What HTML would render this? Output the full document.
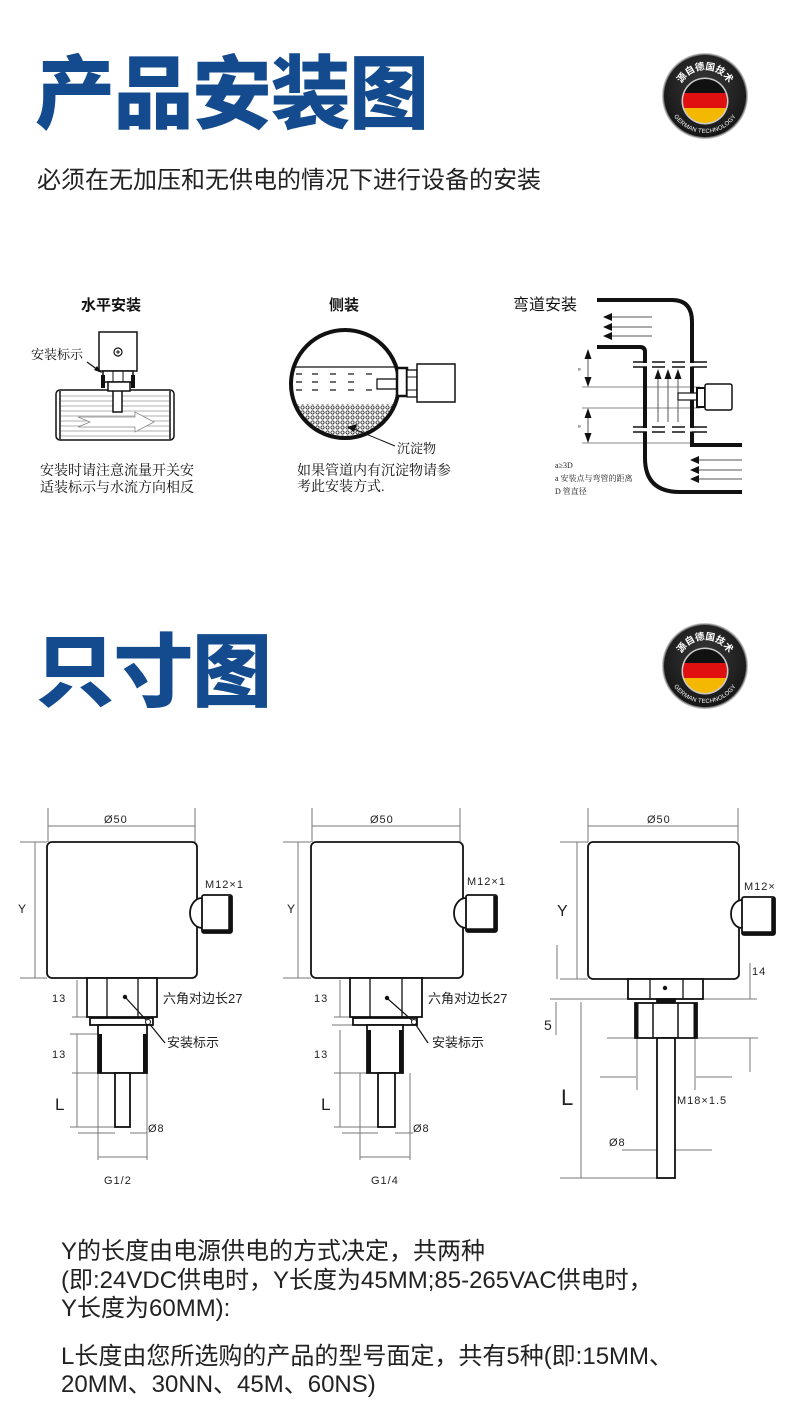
<!DOCTYPE html>
<html><head><meta charset="utf-8"><style>
html,body{margin:0;padding:0;background:#fff;}
svg{display:block;}
</style></head><body>
<svg width="790" height="1409" viewBox="0 0 790 1409" xmlns="http://www.w3.org/2000/svg">
<defs>
  <path id="arcTop" d="M -25.3 8 A 26.5 26.5 0 1 1 25.3 8"/>
  <path id="arcBot" d="M -37 0 A 37 37 0 0 0 37 0"/>
  <clipPath id="flagClip"><circle cx="0" cy="5" r="22"/></clipPath>
  <radialGradient id="ringG" cx="50%" cy="40%" r="60%">
    <stop offset="0" stop-color="#3a3a3a"/><stop offset="1" stop-color="#151515"/>
  </radialGradient>
  <pattern id="dots" width="5" height="5" patternUnits="userSpaceOnUse">
    <circle cx="2.5" cy="2.5" r="1.6" fill="#fff" stroke="#222" stroke-width="0.8"/>
  </pattern>
  <clipPath id="tankClip"><circle cx="345" cy="384" r="52"/></clipPath>
</defs>
<rect width="790" height="1409" fill="#fff"/>

<!-- ===== Section 1 header ===== -->
<text x="35" y="122" font-family="'Liberation Sans','Noto Sans CJK SC',sans-serif" font-weight="900" font-size="80" fill="#134b8e" letter-spacing="-1.5">产品安装图</text>
<text x="37" y="188" font-family="'Liberation Sans','Noto Sans CJK SC',sans-serif" font-size="24" fill="#222">必须在无加压和无供电的情况下进行设备的安装</text>

<!-- badge 1 -->
<g transform="translate(705,96)">
  <circle r="43" fill="#bbb"/>
  <circle r="41.5" fill="url(#ringG)" stroke="#777" stroke-width="1"/>
  <circle cx="0" cy="5" r="23.5" fill="#ccc"/>
  <g clip-path="url(#flagClip)">
    <rect x="-25" y="-20" width="50" height="17" fill="#111"/>
    <rect x="-25" y="-3" width="50" height="15" fill="#e01010"/>
    <rect x="-25" y="12" width="50" height="20" fill="#f5b800"/>
  </g>
  <text font-family="'Liberation Sans','Noto Sans CJK SC',sans-serif" font-weight="bold" font-size="9.5" fill="#fff"><textPath href="#arcTop" startOffset="50%" text-anchor="middle">源自德国技术</textPath></text>
  <text font-family="'Liberation Sans',sans-serif" font-size="6" fill="#fff" letter-spacing="0.2"><textPath href="#arcBot" startOffset="50%" text-anchor="middle">GERMAN TECHNOLOGY</textPath></text>
</g>

<!-- ===== Install diagrams ===== -->
<g font-family="'Liberation Sans','Noto Sans CJK SC',sans-serif">
  <text x="81" y="310" font-size="15" font-weight="bold" fill="#111">水平安装</text>
  <text x="329" y="310" font-size="15" font-weight="bold" fill="#111">侧装</text>
  <text x="513" y="310" font-size="16" fill="#111">弯道安装</text>
</g>

<!-- Left: horizontal -->
<g stroke="#111" fill="none" stroke-width="1.5">
  <rect x="56" y="390" width="118" height="50" rx="4"/>
  <line x1="60" y1="391" x2="60" y2="439"/>
  <line x1="170" y1="391" x2="170" y2="439"/>
</g>
<g stroke="#999" stroke-width="0.7">
  <line x1="61" y1="396" x2="169" y2="396"/><line x1="61" y1="401" x2="169" y2="401"/>
  <line x1="61" y1="406" x2="169" y2="406"/><line x1="61" y1="411" x2="169" y2="411"/>
  <line x1="61" y1="416" x2="169" y2="416"/><line x1="61" y1="421" x2="169" y2="421"/>
  <line x1="61" y1="426" x2="169" y2="426"/><line x1="61" y1="431" x2="169" y2="431"/>
  <line x1="61" y1="436" x2="169" y2="436"/>
</g>
<polygon points="78,417 135,417 135,412 154,422 135,432 135,427 78,427 90,422" fill="#fff" stroke="#888" stroke-width="0.8"/>
<g stroke="#111" fill="#fff" stroke-width="1.5">
  <rect x="113" y="388" width="9" height="24"/>
  <rect x="99" y="332" width="38" height="39"/>
  <rect x="103" y="371" width="30" height="11"/>
  <rect x="108" y="382" width="22" height="9"/>
</g>
<rect x="101" y="375" width="4" height="13" fill="#111"/>
<rect x="131" y="375" width="4" height="13" fill="#111"/>
<line x1="113" y1="371" x2="113" y2="382" stroke="#111"/>
<line x1="123" y1="371" x2="123" y2="382" stroke="#111"/>
<circle cx="118" cy="352" r="4" fill="#fff" stroke="#111" stroke-width="1.2"/>
<line x1="116" y1="352" x2="120" y2="352" stroke="#111"/><line x1="118" y1="350" x2="118" y2="354" stroke="#111"/>
<text x="31" y="359" font-family="'Liberation Serif','Noto Serif CJK SC',serif" font-size="13" fill="#111">安装标示</text>
<line x1="87" y1="362" x2="98" y2="370" stroke="#111" stroke-width="1.2"/>
<polygon points="102,373 94,370 97,366" fill="#111"/>
<g font-family="'Liberation Serif','Noto Serif CJK SC',serif" font-size="14" fill="#111">
  <text x="40" y="475">安装时请注意流量开关安</text>
  <text x="40" y="492">适装标示与水流方向相反</text>
</g>

<!-- Middle: side -->
<rect x="290" y="404" width="110" height="40" fill="url(#dots)" clip-path="url(#tankClip)"/>
<circle cx="345" cy="384" r="54" fill="none" stroke="#111" stroke-width="4"/>
<line x1="294" y1="367" x2="396" y2="367" stroke="#111" stroke-width="1.2"/>
<g stroke="#111" stroke-width="1.2">
  <line x1="296" y1="374" x2="302" y2="374"/><line x1="312" y1="374" x2="318" y2="374"/><line x1="330" y1="374" x2="336" y2="374"/><line x1="348" y1="374" x2="354" y2="374"/><line x1="366" y1="374" x2="372" y2="374"/>
  <line x1="296" y1="382" x2="302" y2="382"/><line x1="312" y1="382" x2="318" y2="382"/><line x1="330" y1="382" x2="336" y2="382"/><line x1="348" y1="382" x2="354" y2="382"/>
  <line x1="296" y1="390" x2="302" y2="390"/><line x1="312" y1="390" x2="318" y2="390"/><line x1="330" y1="390" x2="336" y2="390"/><line x1="348" y1="390" x2="354" y2="390"/><line x1="366" y1="390" x2="372" y2="390"/>
</g>
<rect x="377" y="379" width="30" height="10" fill="#fff" stroke="#111" stroke-width="1.3"/>
<rect x="397" y="368" width="10" height="28" fill="#fff" stroke="#111" stroke-width="2.5"/>
<rect x="407" y="370" width="10" height="27" fill="#fff" stroke="#111" stroke-width="1.3"/>
<line x1="407" y1="377" x2="417" y2="377" stroke="#111"/><line x1="407" y1="390" x2="417" y2="390" stroke="#111"/>
<rect x="417" y="364" width="38" height="38" fill="#fff" stroke="#111" stroke-width="1.5"/>
<polygon points="347,427 357,424 354,432" fill="#111"/>
<line x1="354" y1="429" x2="395" y2="446" stroke="#111" stroke-width="1"/>
<g font-family="'Liberation Serif','Noto Serif CJK SC',serif" font-size="14" fill="#111">
  <text x="397" y="453" font-size="13">沉淀物</text>
  <text x="297" y="475">如果管道内有沉淀物请参</text>
  <text x="297" y="491">考此安装方式.</text>
</g>

<!-- Right: elbow -->
<g stroke="#888" stroke-width="1">
  <line x1="582" y1="387" x2="700" y2="387"/>
  <line x1="582" y1="408" x2="700" y2="408"/>
  <line x1="582" y1="443" x2="690" y2="443"/>
</g>
<g fill="none" stroke="#111" stroke-width="4">
  <path d="M597 300 L672 300 Q692 300 692 322 L692 445 L742 445"/>
  <path d="M597 347 L640 347 Q645 347 645 352 L645 458 Q645 492 680 492 L742 492"/>
</g>
<rect x="628" y="363" width="84" height="3.5" fill="#fff"/>
<rect x="628" y="428" width="84" height="3.5" fill="#fff"/>
<g stroke="#111" stroke-width="1.5">
  <line x1="633" y1="362" x2="647" y2="362"/><line x1="652" y1="362" x2="665" y2="362"/><line x1="672" y1="362" x2="685" y2="362"/><line x1="692" y1="362" x2="707" y2="362"/>
  <line x1="633" y1="367" x2="647" y2="367"/><line x1="652" y1="367" x2="665" y2="367"/><line x1="672" y1="367" x2="685" y2="367"/><line x1="692" y1="367" x2="707" y2="367"/>
  <line x1="633" y1="427" x2="647" y2="427"/><line x1="652" y1="427" x2="665" y2="427"/><line x1="672" y1="427" x2="685" y2="427"/><line x1="692" y1="427" x2="707" y2="427"/>
  <line x1="633" y1="432" x2="647" y2="432"/><line x1="652" y1="432" x2="665" y2="432"/><line x1="672" y1="432" x2="685" y2="432"/><line x1="692" y1="432" x2="707" y2="432"/>
</g>
<g stroke="#555" stroke-width="1">
  <line x1="605" y1="317" x2="652" y2="317"/><line x1="605" y1="327" x2="652" y2="327"/><line x1="605" y1="336" x2="652" y2="336"/>
  <line x1="692" y1="460" x2="742" y2="460"/><line x1="692" y1="470" x2="742" y2="470"/><line x1="692" y1="479" x2="742" y2="479"/>
  <line x1="658" y1="376" x2="658" y2="422"/><line x1="668" y1="376" x2="668" y2="422"/><line x1="678" y1="376" x2="678" y2="422"/>
  <line x1="588" y1="352" x2="588" y2="385"/><line x1="588" y1="410" x2="588" y2="441"/>
</g>
<g fill="#111">
  <polygon points="603,317 612,313 612,321"/><polygon points="603,327 612,323 612,331"/><polygon points="603,336 612,332 612,340"/>
  <polygon points="690,460 699,456 699,464"/><polygon points="690,470 699,466 699,474"/><polygon points="690,479 699,475 699,483"/>
  <polygon points="658,369 654.5,379 661.5,379"/><polygon points="668,369 664.5,379 671.5,379"/><polygon points="678,369 674.5,379 681.5,379"/>
  <polygon points="588,349 584.5,359 591.5,359"/><polygon points="588,387 584.5,377 591.5,377"/>
  <polygon points="588,408 584.5,418 591.5,418"/><polygon points="588,443 584.5,433 591.5,433"/>
</g>
<text x="580" y="370" font-family="'Liberation Serif',serif" font-size="6" fill="#333" transform="rotate(90 580 368)">a</text>
<text x="580" y="427" font-family="'Liberation Serif',serif" font-size="6" fill="#333" transform="rotate(90 580 425)">a</text>
<rect x="678" y="393" width="19" height="7" fill="#fff" stroke="#111" stroke-width="1.2"/>
<rect x="697" y="388" width="8" height="19" fill="#fff" stroke="#111" stroke-width="2"/>
<rect x="705" y="384" width="27" height="26" rx="2" fill="#fff" stroke="#111" stroke-width="1.5"/>
<g font-family="'Liberation Serif','Noto Serif CJK SC',serif" font-size="8" fill="#222">
  <text x="555" y="468">a≥3D</text>
  <text x="555" y="481">a  安装点与弯管的距离</text>
  <text x="555" y="494">D  管直径</text>
</g>

<!-- ===== Section 2 header ===== -->
<text x="35" y="700" font-family="'Liberation Sans','Noto Sans CJK SC',sans-serif" font-weight="900" font-size="80" fill="#134b8e" letter-spacing="-1.5">只寸图</text>
<g transform="translate(705,666)">
  <circle r="43" fill="#bbb"/>
  <circle r="41.5" fill="url(#ringG)" stroke="#777" stroke-width="1"/>
  <circle cx="0" cy="5" r="23.5" fill="#ccc"/>
  <g clip-path="url(#flagClip)">
    <rect x="-25" y="-20" width="50" height="17" fill="#111"/>
    <rect x="-25" y="-3" width="50" height="15" fill="#e01010"/>
    <rect x="-25" y="12" width="50" height="20" fill="#f5b800"/>
  </g>
  <text font-family="'Liberation Sans','Noto Sans CJK SC',sans-serif" font-weight="bold" font-size="9.5" fill="#fff"><textPath href="#arcTop" startOffset="50%" text-anchor="middle">源自德国技术</textPath></text>
  <text font-family="'Liberation Sans',sans-serif" font-size="6" fill="#fff" letter-spacing="0.2"><textPath href="#arcBot" startOffset="50%" text-anchor="middle">GERMAN TECHNOLOGY</textPath></text>
</g>

<!-- ===== Dimension drawings ===== -->
<g font-family="'Liberation Sans','Noto Sans CJK SC',sans-serif" fill="#222">
<!-- LEFT -->
<g stroke="#777" stroke-width="1">
  <line x1="48" y1="826" x2="195" y2="826"/><line x1="48" y1="808" x2="48" y2="842"/><line x1="195" y1="808" x2="195" y2="842"/>
  <line x1="35" y1="842" x2="35" y2="978"/><line x1="20" y1="842" x2="47" y2="842"/><line x1="20" y1="978" x2="47" y2="978"/>
  <line x1="77" y1="980" x2="77" y2="1017"/><line x1="72" y1="1017" x2="90" y2="1017"/>
  <line x1="70" y1="1034" x2="98" y2="1034"/><line x1="77" y1="1034" x2="77" y2="1127"/><line x1="72" y1="1073" x2="98" y2="1073"/>
  <line x1="70" y1="1127" x2="130" y2="1127"/>
  <line x1="78" y1="1133" x2="115" y2="1133"/><line x1="130" y1="1133" x2="147" y2="1133"/>
  <line x1="98" y1="1073" x2="98" y2="1160"/><line x1="147" y1="1073" x2="147" y2="1160"/><line x1="98" y1="1157" x2="147" y2="1157"/>
</g>
<g fill="#fff" stroke="#111" stroke-width="1.8">
  <rect x="47" y="842" width="150" height="136" rx="5"/>
  <path d="M202 898 A12 15 0 0 0 202 928" fill="#fff"/>
  <rect x="202" y="895" width="30" height="38" rx="2"/>
  <rect x="87" y="978" width="70" height="39"/>
  <rect x="90" y="1018" width="63" height="7"/>
  <rect x="98" y="1025" width="49" height="48"/>
  <rect x="115" y="1073" width="15" height="54"/>
</g>
<line x1="230" y1="896" x2="230" y2="933" stroke="#111" stroke-width="3.5"/><line x1="202" y1="931" x2="232" y2="931" stroke="#111" stroke-width="3.5"/>
<line x1="100" y1="1034" x2="100" y2="1073" stroke="#111" stroke-width="4"/><line x1="145" y1="1034" x2="145" y2="1073" stroke="#111" stroke-width="4"/>
<line x1="107" y1="978" x2="107" y2="1017" stroke="#111" stroke-width="1.3"/><line x1="138" y1="978" x2="138" y2="1017" stroke="#111" stroke-width="1.3"/>
<circle cx="125" cy="997" r="2.2" fill="#111"/>
<polyline points="126,998 148,1022 165,1043" fill="none" stroke="#111" stroke-width="1.2"/>
<circle cx="148" cy="1022" r="2.5" fill="#fff" stroke="#111"/>
<g font-size="11" letter-spacing="1">
  <text x="104" y="823">Ø50</text>
  <text x="205" y="888">M12×1</text>
  <text x="52" y="1002">13</text>
  <text x="52" y="1058">13</text>
  <text x="148" y="1132">Ø8</text>
  <text x="104" y="1184">G1/2</text>
</g>
<text x="18" y="913" font-size="12">Y</text>
<text x="55" y="1110" font-size="17">L</text>
<text x="163" y="1003" font-size="13">六角对边长27</text>
<text x="167" y="1047" font-size="13">安装标示</text>

<!-- MIDDLE -->
<g stroke="#777" stroke-width="1">
  <line x1="312" y1="826" x2="460" y2="826"/><line x1="312" y1="808" x2="312" y2="842"/><line x1="460" y1="808" x2="460" y2="842"/>
  <line x1="298" y1="842" x2="298" y2="978"/><line x1="283" y1="842" x2="311" y2="842"/><line x1="283" y1="978" x2="311" y2="978"/>
  <line x1="340" y1="980" x2="340" y2="1017"/><line x1="334" y1="1017" x2="352" y2="1017"/>
  <line x1="332" y1="1025" x2="362" y2="1025"/><line x1="340" y1="1030" x2="340" y2="1127"/><line x1="334" y1="1073" x2="367" y2="1073"/>
  <line x1="334" y1="1127" x2="395" y2="1127"/>
  <line x1="342" y1="1133" x2="378" y2="1133"/><line x1="395" y1="1133" x2="413" y2="1133"/>
  <line x1="360" y1="1073" x2="360" y2="1160"/><line x1="410" y1="1073" x2="410" y2="1160"/><line x1="360" y1="1157" x2="410" y2="1157"/>
</g>
<g fill="#fff" stroke="#111" stroke-width="1.8">
  <rect x="311" y="842" width="152" height="136" rx="5"/>
  <path d="M466 898 A12 15 0 0 0 466 928" fill="#fff"/>
  <rect x="466" y="895" width="31" height="37" rx="2"/>
  <rect x="350" y="978" width="72" height="39"/>
  <rect x="353" y="1018" width="64" height="7"/>
  <rect x="367" y="1025" width="36" height="48"/>
  <rect x="378" y="1073" width="17" height="54"/>
</g>
<line x1="495" y1="896" x2="495" y2="932" stroke="#111" stroke-width="3.5"/><line x1="466" y1="930" x2="497" y2="930" stroke="#111" stroke-width="3.5"/>
<line x1="369" y1="1030" x2="369" y2="1073" stroke="#111" stroke-width="4"/><line x1="401" y1="1030" x2="401" y2="1073" stroke="#111" stroke-width="4"/>
<line x1="370" y1="978" x2="370" y2="1017" stroke="#111" stroke-width="1.3"/><line x1="402" y1="978" x2="402" y2="1017" stroke="#111" stroke-width="1.3"/>
<circle cx="387" cy="998" r="2.2" fill="#111"/>
<polyline points="388,999 414,1022 428,1043" fill="none" stroke="#111" stroke-width="1.2"/>
<circle cx="414" cy="1022" r="2.5" fill="#fff" stroke="#111"/>
<g font-size="11" letter-spacing="1">
  <text x="370" y="823">Ø50</text>
  <text x="467" y="885">M12×1</text>
  <text x="314" y="1002">13</text>
  <text x="314" y="1058">13</text>
  <text x="413" y="1132">Ø8</text>
  <text x="371" y="1184">G1/4</text>
</g>
<text x="287" y="913" font-size="12">Y</text>
<text x="321" y="1110" font-size="17">L</text>
<text x="428" y="1003" font-size="13">六角对边长27</text>
<text x="432" y="1047" font-size="13">安装标示</text>

<!-- RIGHT -->
<g stroke="#777" stroke-width="1">
  <line x1="588" y1="826" x2="738" y2="826"/><line x1="588" y1="808" x2="588" y2="842"/><line x1="738" y1="808" x2="738" y2="842"/>
  <line x1="577" y1="842" x2="577" y2="979"/><line x1="560" y1="842" x2="588" y2="842"/><line x1="560" y1="979" x2="588" y2="979"/>
  <line x1="557" y1="945" x2="557" y2="979"/>
  <line x1="750" y1="963" x2="750" y2="999"/>
  <line x1="550" y1="999" x2="757" y2="999"/>
  <line x1="556" y1="1002" x2="556" y2="1035"/>
  <line x1="607" y1="1038" x2="758" y2="1038"/>
  <line x1="750" y1="1038" x2="750" y2="1072"/>
  <line x1="581" y1="1002" x2="581" y2="1178"/>
  <line x1="637" y1="1038" x2="637" y2="1090"/><line x1="695" y1="1038" x2="695" y2="1090"/>
  <line x1="600" y1="1077" x2="636" y2="1077"/><line x1="696" y1="1077" x2="732" y2="1077"/>
  <line x1="622" y1="1150" x2="712" y2="1150"/>
  <line x1="560" y1="1178" x2="660" y2="1178"/>
</g>
<g fill="#fff" stroke="#111" stroke-width="1.8">
  <rect x="588" y="842" width="151" height="137" rx="5"/>
  <path d="M742 900 A11 14 0 0 0 742 928" fill="#fff"/>
  <rect x="742" y="897" width="33" height="38" rx="2"/>
  <rect x="628" y="979" width="75" height="20"/>
  <rect x="657" y="999" width="18" height="5" fill="#111"/>
  <rect x="635" y="1003" width="62" height="35"/>
  <rect x="657" y="1038" width="18" height="140"/>
</g>
<line x1="773" y1="898" x2="773" y2="935" stroke="#111" stroke-width="3.5"/><line x1="742" y1="933" x2="775" y2="933" stroke="#111" stroke-width="3.5"/>
<line x1="650" y1="979" x2="650" y2="999" stroke="#111" stroke-width="1.3"/><line x1="683" y1="979" x2="683" y2="999" stroke="#111" stroke-width="1.3"/>
<line x1="653" y1="1003" x2="653" y2="1038" stroke="#111" stroke-width="1.5"/><line x1="678" y1="1003" x2="678" y2="1038" stroke="#111" stroke-width="1.5"/>
<line x1="637" y1="1003" x2="637" y2="1038" stroke="#111" stroke-width="3"/><line x1="695" y1="1003" x2="695" y2="1038" stroke="#111" stroke-width="3"/>
<circle cx="665" cy="988" r="2.2" fill="#111"/>
<g font-size="11" letter-spacing="1">
  <text x="647" y="823">Ø50</text>
  <text x="744" y="890">M12×</text>
  <text x="752" y="975">14</text>
  <text x="677" y="1104">M18×1.5</text>
  <text x="609" y="1146">Ø8</text>
</g>
<text x="557" y="916" font-size="16">Y</text>
<text x="544" y="1030" font-size="14">5</text>
<text x="561" y="1105" font-size="22">L</text>
</g>

<!-- ===== Bottom text ===== -->
<g font-family="'Liberation Sans','Noto Sans CJK SC',sans-serif" font-size="24" fill="#222">
  <text x="61" y="1259">Y的长度由电源供电的方式决定，共两种</text>
  <text x="61" y="1288">(即:24VDC供电时，Y长度为45MM;85-265VAC供电时，</text>
  <text x="61" y="1316">Y长度为60MM):</text>
  <text x="61" y="1364">L长度由您所选购的产品的型号面定，共有5种(即:15MM、</text>
  <text x="61" y="1392">20MM、30NN、45M、60NS)</text>
</g>
</svg>
</body></html>
